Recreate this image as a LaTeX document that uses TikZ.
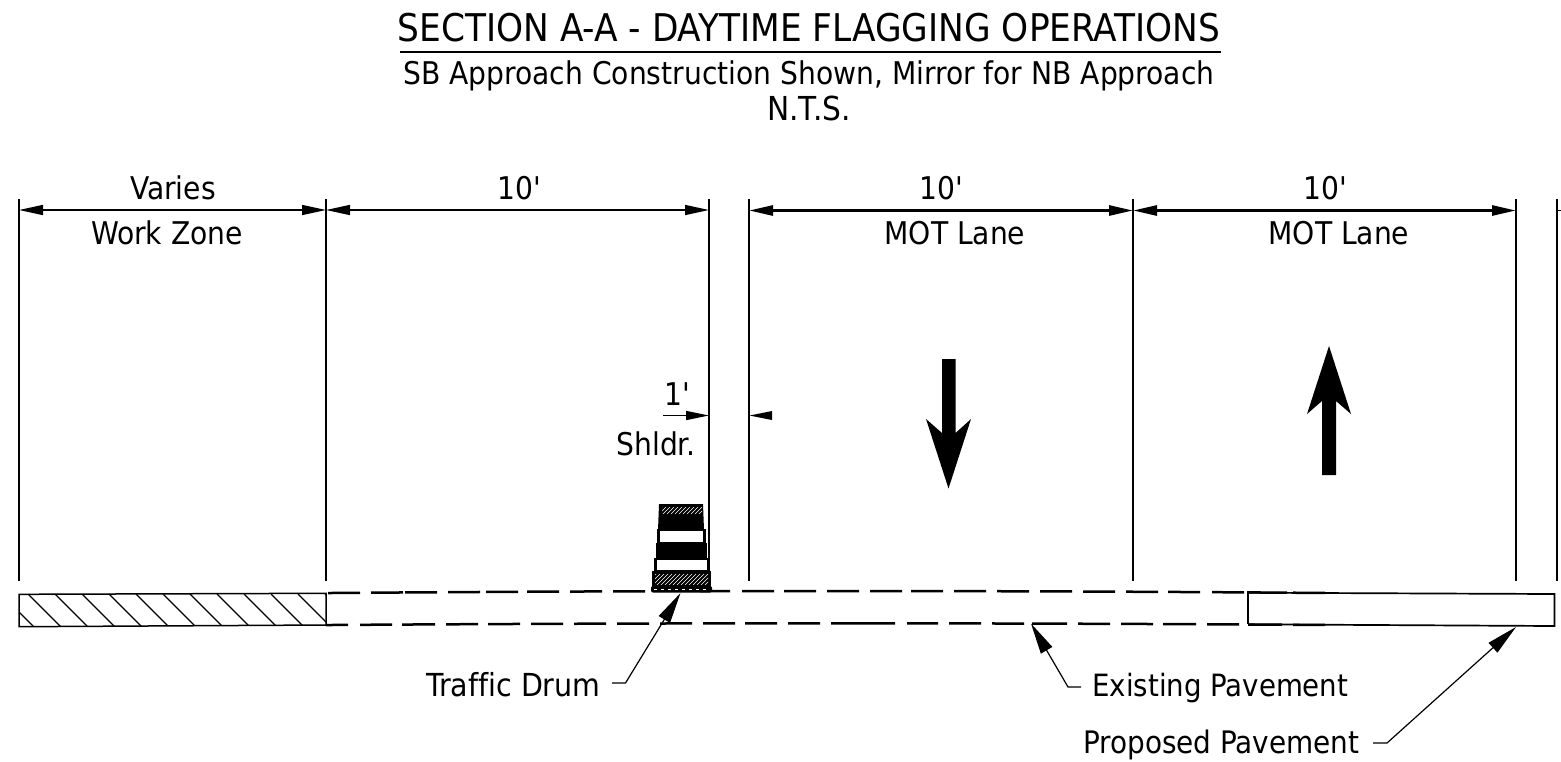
\documentclass[tikz,border=0pt]{standalone}
\usepackage{fontspec}
\setmainfont[Ligatures={NoCommon}]{DejaVu Sans Condensed}
\usetikzlibrary{arrows.meta}
\tikzset{
  x=0.5pt,y=-0.5pt,
  thinln/.style={line width=0.75pt,black},
  thickln/.style={line width=1.35pt,black},
  lbl/.style={inner sep=0pt,anchor=base,font=\fontsize{15.65}{18}\selectfont,text=black},
  dimarrow/.style={{Triangle[length=12pt,width=5pt]}-{Triangle[length=12pt,width=5pt]}},
  leader/.style={line width=0.6pt,black,{Triangle[length=15.5pt,width=6.5pt]}-},
  dashln/.style={line width=1.25pt},
}
\begin{document}
\begin{tikzpicture}
\useasboundingbox (0,0) rectangle (1561,761);
\node[lbl,font=\fontsize{19.1}{22}\selectfont] (title) at (809,41) {SECTION A-A - DAYTIME FLAGGING OPERATIONS};
\coordinate (rl) at (400,52); \coordinate (rr) at (1221,52);
\draw[thickln] (rl) -- (rr);
\node[lbl] (sub) at (809,84.5) {SB Approach Construction Shown, Mirror for NB Approach};
\node[lbl,font=\fontsize{16.5}{18}\selectfont] (nts) at (809,120) {N.T.S.};
% extension lines
\foreach \n/\x in {a/19,b/326,c/709}{
  \coordinate (\n t) at (\x,199); \coordinate (\n b) at (\x,581);
  \draw[thinln] (\n t) -- (\n b);}
\foreach \n/\x in {d/749,e/1133,f/1516,g/1557}{
  \coordinate (\n t) at (\x,199); \coordinate (\n b) at (\x,581);
  \draw[thickln] (\n t) -- (\n b);}
\coordinate (am) at (19,210); \coordinate (bm) at (326,210); \coordinate (cm) at (709,210);
\coordinate (dm) at (749,210.5); \coordinate (em) at (1133,210.5); \coordinate (fm) at (1516,210.5); \coordinate (gm) at (1557,210.5);
\draw[thinln,dimarrow] (am) -- (bm);
\draw[thinln,dimarrow] (bm) -- (cm);
\draw[thickln,dimarrow] (dm) -- (em);
\draw[thickln,dimarrow] (em) -- (fm);
\draw[thinln] (gm) -- (1561,210.5);
\node[lbl] (v) at (173,199) {Varies};
\node[lbl] (wz) at (167,244) {Work Zone};
\node[lbl] (d1) at (519,199) {10\textquotesingle};
\node[lbl] (d2) at (941,199) {10\textquotesingle};
\node[lbl] (d3) at (1325,199) {10\textquotesingle};
\node[lbl] (m1) at (955,244) {MOT Lane};
\node[lbl] (m2) at (1339,244) {MOT Lane};
% shoulder
\node[lbl] (one) at (677,405) {1\textquotesingle};
\node[lbl] (sh) at (656,455) {Shldr.};
\coordinate (s1) at (663,415.5); \coordinate (s2) at (709,415.5);
\coordinate (s3) at (772,415.5); \coordinate (s4) at (749.5,415.5);
\draw[thinln,{Triangle[length=11.5pt,width=4.5pt]}-] (s2) -- (s1);
\fill[black] (s4) -- (s3 |- 0,411) -- (s3 |- 0,420) -- cycle;
% big arrows
\fill[black] (942,359) -- (955.5,359) -- (955.5,433) -- (971,419) -- (948.5,488.5) -- (926,419) -- (942,433) -- cycle;
\fill[black] (1322,475) -- (1336,475) -- (1336,401) -- (1351,414) -- (1329,346) -- (1307,414) -- (1322,401) -- cycle;
% pavement
\begin{scope}
\clip (19,594) -- (326,593) -- (326,625) -- (19,627) -- cycle;
\foreach \i in {0,...,12}{\draw[line width=0.55pt] ({1+27*\i},594) -- ++(33,33);}
\end{scope}
\draw[line width=0.75pt] (19,594.3) -- (326,593.3) -- (326,625) -- (19,626.7) -- cycle;
\foreach \p/\q in {328/360,371/403,405/437,448/480,486/518,527/559,570/602,613/645,700/730,742/774,784/816,827/859,870/902,911/943,954/986,997/1029,1040/1072,1083/1115,1126/1158,1168/1200,1212/1244,1247/1287,1293/1325}{
  \pgfmathsetmacro{\yp}{591+2*((\p-830)/500)^2}
  \pgfmathsetmacro{\yq}{591+2*((\q-830)/500)^2}
  \draw[dashln] (\p,\yp) -- (\q,\yq);}
\foreach \p/\q in {326/348,360/392,402/435,446/478,488/520,531/563,574/606,617/649,660/692,703/735,745/777,788/820,831/863,863/895,907/938,949/981,992/1024,1032/1067,1078/1110,1121/1153,1163/1196,1207/1239,1248/1282,1293/1325}{
  \pgfmathsetmacro{\yp}{623.3+1.7*((\p-830)/500)^2}
  \pgfmathsetmacro{\yq}{623.3+1.7*((\q-830)/500)^2}
  \draw[dashln] (\p,\yp) -- (\q,\yq);}
\draw[line width=0.85pt] (1248,592.7) -- (1554.5,594) -- (1554.5,626) -- (1248,624.3);
\draw[line width=1.25pt] (1248,592.7) -- (1248,624.3);
% drum
\fill[black] (659,504) -- (703,504) -- (704,530) -- (658,530) -- cycle;
\fill[black] (657,529) rectangle (706,544);
\fill[white] (660,531) rectangle (703,542);
\fill[black] (656,543) rectangle (707,559);
\fill[black] (654,558) rectangle (709,572);
\fill[white] (657,560) rectangle (707,570);
\fill[black] (652,571) rectangle (711,587);
\fill[black,rounded corners=1pt] (651,586) rectangle (712,592.5);
\begin{scope}
\clip (662,507) rectangle (702,513);
\foreach \i in {0,...,12}{\draw[white,line width=0.3pt] ({655+4*\i},514) -- ++(8,-8);}
\end{scope}
\begin{scope}
\clip (655,574) rectangle (708,584);
\foreach \i in {0,...,18}{\draw[white,line width=0.3pt] ({645+4*\i},585) -- ++(12,-12);}
\end{scope}
\draw[white,line width=0.4pt,dash pattern=on 1.5pt off 2pt] (654,589.5) -- (709,589.5);
% leaders
\node[lbl,anchor=base east,font=\fontsize{15.85}{18}\selectfont] (td) at (601,696) {Traffic Drum};
\coordinate (td1) at (612,683); \coordinate (td2) at (625.5,683); \coordinate (tdh) at (680.5,593);
\draw[leader] (tdh) -- (td2) -- (td1);
\node[lbl,anchor=base west,font=\fontsize{15.35}{18}\selectfont] (ep) at (1092,696) {Existing Pavement};
\coordinate (ep1) at (1081,687); \coordinate (ep2) at (1068,687); \coordinate (eph) at (1031,623.5);
\draw[leader] (eph) -- (ep2) -- (ep1);
\node[lbl,anchor=base east,font=\fontsize{15.5}{18}\selectfont] (pp) at (1360,753) {Proposed Pavement};
\coordinate (pp1) at (1373,743); \coordinate (pp2) at (1387,743); \coordinate (pph) at (1516,627);
\draw[leader] (pph) -- (pp2) -- (pp1);
\end{tikzpicture}
\end{document}
